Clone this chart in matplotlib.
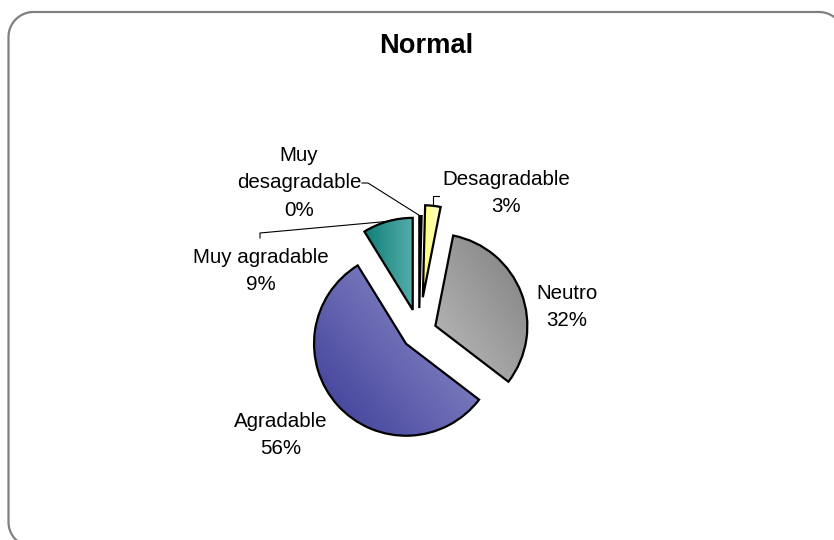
import numpy as np
import matplotlib
matplotlib.use('Agg')
import matplotlib.pyplot as plt
from matplotlib.colors import LinearSegmentedColormap

# ---- data ----
categories = ["Muy desagradable", "Desagradable", "Neutro", "Agradable", "Muy agradable"]
values = [0.4, 2.7, 32.3, 55.8, 8.8]
pct_labels = ["0%", "3%", "32%", "56%", "9%"]
name_labels = ["Muy\ndesagradable", "Desagradable", "Neutro", "Agradable", "Muy agradable"]
title = "Normal"

# ---- style ----
plt.rcParams['font.family'] = ['Liberation Sans', 'DejaVu Sans']
W, H = 834, 540
fig = plt.figure(figsize=(W / 100, H / 100), dpi=100)
ax = fig.add_axes([0, 0, 1, 1])

R = 92
center = (419, 208)
explode_frac = [0.26, 0.38, 0.19, 0.19, 0.25]
grad = [  # start color, end color, gradient direction (deg)
    ('#101030', '#34346a', 0),
    ('#ffff70', '#ffffd8', 0),
    ('#bdbdbd', '#7e7e7e', 35),
    ('#3a3a96', '#9a9ad2', 40),
    ('#0f7d77', '#55aeaa', 0),
]

wedges, _ = ax.pie(values, startangle=90, counterclock=False, radius=R,
                   center=center, explode=[f * R for f in explode_frac],
                   wedgeprops=dict(edgecolor='black', linewidth=1.6))

for w, (c0, c1, ang) in zip(wedges, grad):
    bb = w.get_path().get_extents()
    x0, y0, x1, y1 = bb.x0, bb.y0, bb.x1, bb.y1
    xs = np.linspace(0, 1, 120)
    ys = np.linspace(0, 1, 120)
    X, Y = np.meshgrid(xs * (x1 - x0), ys * (y1 - y0))
    a = np.deg2rad(ang)
    T = X * np.cos(a) + Y * np.sin(a)
    T = (T - T.min()) / (T.max() - T.min() + 1e-9)
    cmap = LinearSegmentedColormap.from_list('g', [c0, c1])
    im = ax.imshow(T, cmap=cmap, origin='lower', extent=[x0, x1, y0, y1],
                   interpolation='bilinear', aspect='auto', zorder=2)
    im.set_clip_path(w)
    w.set_facecolor('none')
    w.set_zorder(3)

ax.set_xlim(0, W)
ax.set_ylim(0, H)
ax.axis('off')


def arc_mid(w):
    m = np.deg2rad((w.theta1 + w.theta2) / 2)
    return w.center[0] + w.r * np.cos(m), w.center[1] + w.r * np.sin(m)


fs = 14.8
ls = 1.55
lc = dict(color='black', lw=0.8, zorder=4)

# Muy desagradable
ax.text(299, 357, f"{name_labels[0]}\n{pct_labels[0]}", ha='center', va='center',
        fontsize=fs, linespacing=ls)
px, py = arc_mid(wedges[0])
ax.plot([362, 368, px], [357, 357, py], **lc)

# Desagradable
ax.text(506, 347, f"{name_labels[1]}\n{pct_labels[1]}", ha='center', va='center',
        fontsize=fs, linespacing=ls)
px, py = arc_mid(wedges[1])
ax.plot([439, px, px], [344, 344, py], **lc)

# Neutro
ax.text(567, 233, f"{name_labels[2]}\n{pct_labels[2]}", ha='center', va='center',
        fontsize=fs, linespacing=ls)

# Agradable
ax.text(281, 105, f"{name_labels[3]}\n{pct_labels[3]}", ha='center', va='center',
        fontsize=fs, linespacing=ls)

# Muy agradable
ax.text(261, 269, f"{name_labels[4]}\n{pct_labels[4]}", ha='center', va='center',
        fontsize=fs, linespacing=ls)
px, py = arc_mid(wedges[4])
ax.plot([260, 260, px], [302, 307, py], **lc)

# title
ax.text(426, 494, title, ha='center', va='center', fontsize=19.6, fontweight='bold')

# border (rounded rectangle, partly outside the canvas)
bx0, bx1, by0, by1, rr = 8.5, 844.0, -7.0, 528.0, 25.0
def corner(cx, cy, a0, a1):
    t = np.deg2rad(np.linspace(a0, a1, 30))
    return cx + rr * np.cos(t), cy + rr * np.sin(t)
segs = [corner(bx1 - rr, by1 - rr, 0, 90), corner(bx0 + rr, by1 - rr, 90, 180),
        corner(bx0 + rr, by0 + rr, 180, 270), corner(bx1 - rr, by0 + rr, 270, 360)]
bxs = np.concatenate([s[0] for s in segs] + [segs[0][0][:1]])
bys = np.concatenate([s[1] for s in segs] + [segs[0][1][:1]])
ax.plot(bxs, bys, color='#808080', lw=1.6, zorder=5, solid_capstyle='butt')

fig.savefig('out.png', dpi=100)
